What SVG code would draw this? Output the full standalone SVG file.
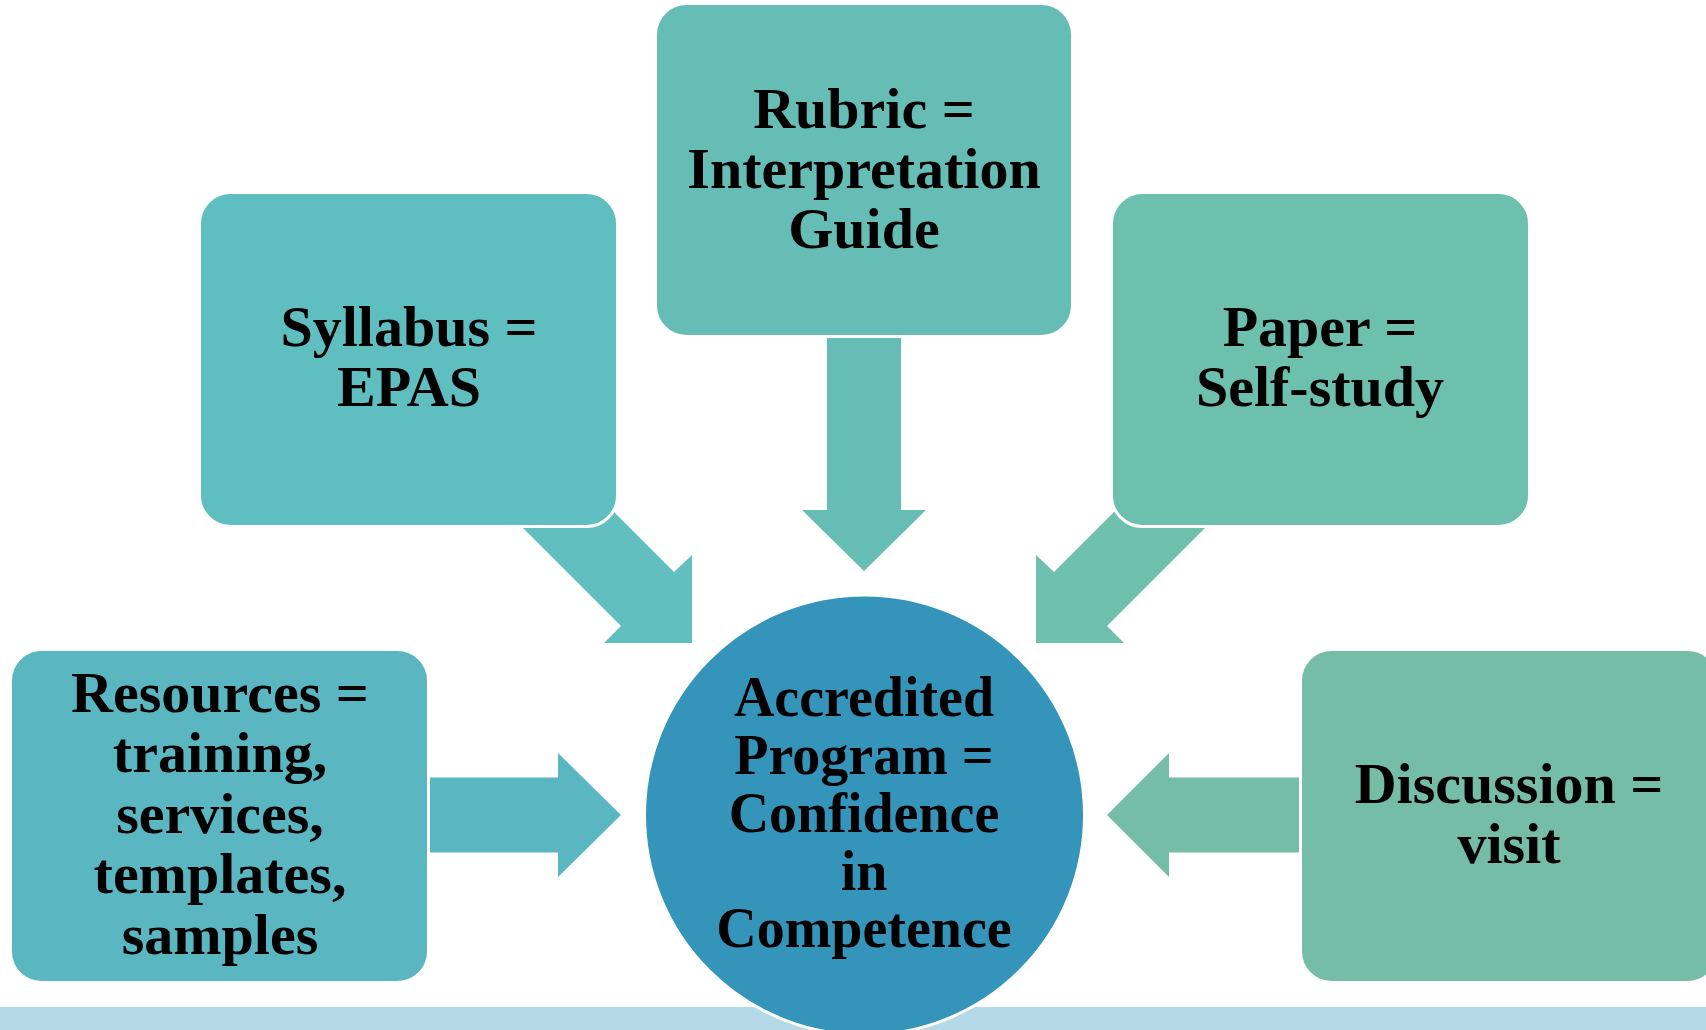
<svg xmlns="http://www.w3.org/2000/svg" width="1706" height="1030" viewBox="0 0 1706 1030">
<style>
.box{stroke:#FFFFFF;stroke-width:3}
.lbl{font-family:"Liberation Serif","Times New Roman",serif;font-weight:bold;font-size:58px;fill:#000000;text-anchor:middle}
.lbl-c{font-size:56px}
</style>
<rect x="0" y="0" width="1706" height="1030" fill="#FFFFFF"/>
<rect id="band" x="0" y="1007" width="1706" height="23" fill="#B4DAE8"/>
<g id="connectors">
  <polygon id="arrow-rubric" fill="#66BDB5" points="827,320 901,320 901,510 926,510 864,571 802,510 827,510"/>
  <polygon id="arrow-syllabus" fill="#61BFBF" points="515,520 621,626 604,643 692,643 692,555 674,572 568.5,466.5"/>
  <polygon id="arrow-paper" fill="#6EBFAE" points="1213,520 1107,626 1124,643 1036,643 1036,555 1054,572 1159.5,466.5"/>
  <polygon id="arrow-resources" fill="#5AB6C0" points="420,777.5 558,777.5 558,753 621,815 558,877 558,852.5 420,852.5"/>
  <polygon id="arrow-discussion" fill="#76BDA7" points="1310,777.5 1169,777.5 1169,753 1107,815 1169,877 1169,852.5 1310,852.5"/>
</g>
<g id="node-rubric">
  <rect class="box" x="655.5" y="3.5" width="417" height="333" rx="31" fill="#66BDB5"/>
  <text class="lbl"><tspan x="864" y="128">Rubric =</tspan><tspan x="864" y="188">Interpretation</tspan><tspan x="864" y="248">Guide</tspan></text>
</g>
<g id="node-syllabus">
  <rect class="box" x="199.5" y="192.5" width="418" height="334" rx="31" fill="#5FBEBF"/>
  <text class="lbl"><tspan x="409" y="346">Syllabus =</tspan><tspan x="409" y="406">EPAS</tspan></text>
</g>
<g id="node-paper">
  <rect class="box" x="1111.5" y="192.5" width="418" height="334" rx="31" fill="#6DBFAE"/>
  <text class="lbl"><tspan x="1320" y="346">Paper =</tspan><tspan x="1320" y="406">Self-study</tspan></text>
</g>
<g id="node-resources">
  <rect class="box" x="10.5" y="649.5" width="418" height="333" rx="31" fill="#5AB6C0"/>
  <text class="lbl"><tspan x="220" y="712">Resources =</tspan><tspan x="220" y="772">training,</tspan><tspan x="220" y="833">services,</tspan><tspan x="220" y="893">templates,</tspan><tspan x="220" y="954">samples</tspan></text>
</g>
<g id="node-discussion">
  <rect class="box" x="1300.5" y="649.5" width="418" height="333" rx="31" fill="#75BDA6"/>
  <text class="lbl"><tspan x="1509" y="803">Discussion =</tspan><tspan x="1509" y="863">visit</tspan></text>
</g>
<g id="node-center">
  <circle class="box" cx="864.5" cy="815" r="220" fill="#3594BA"/>
  <text class="lbl lbl-c"><tspan x="864" y="716">Accredited</tspan><tspan x="864" y="774">Program =</tspan><tspan x="864" y="832">Confidence</tspan><tspan x="864" y="890">in</tspan><tspan x="864" y="947">Competence</tspan></text>
</g>
</svg>
